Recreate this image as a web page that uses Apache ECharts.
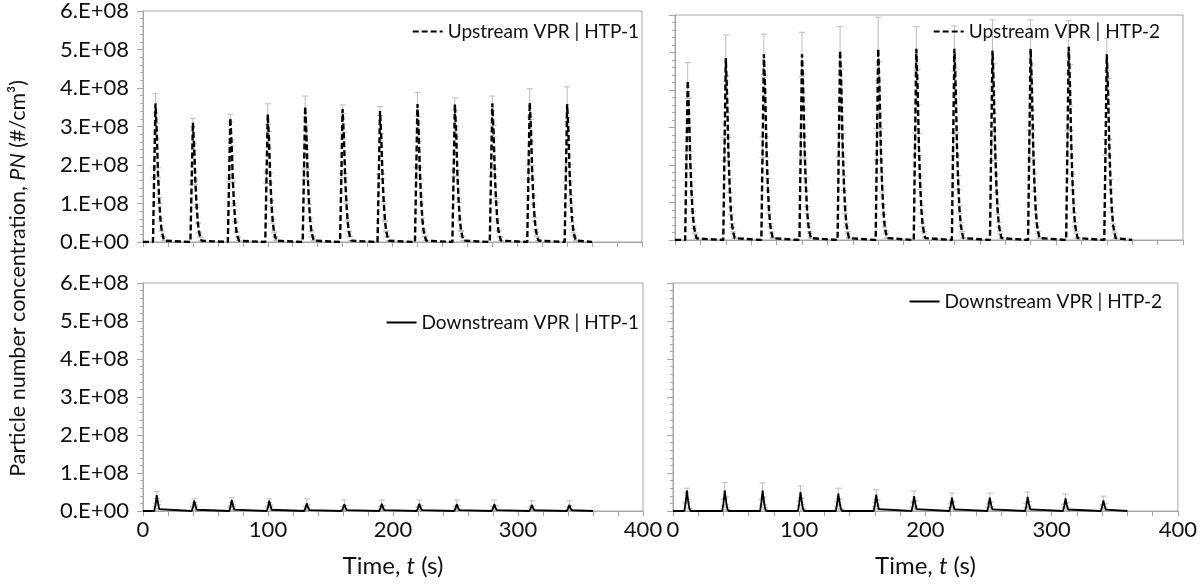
<!DOCTYPE html>
<html>
<head>
<meta charset="UTF-8">
<title>PN upstream / downstream VPR</title>
<script src="https://cdn.jsdelivr.net/npm/echarts@6/dist/echarts.min.js"></script>
<style>
    html, body { margin: 0; padding: 0; background: #fff; }
    #chart { width: 1200px; height: 585px; }
</style>
</head>
<body>
<div id="chart"></div>
<script>
// injection times (s), one pulse every 30 s
var pulseTimes = [10, 40, 70, 100, 130, 160, 190, 220, 250, 280, 310, 340];

// peak values and top of error bar at the peak, in 1e8 #/cm3
var upPeak1 = [3.6, 3.1, 3.22, 3.32, 3.52, 3.45, 3.4, 3.58, 3.58, 3.6, 3.62, 3.58];
var upTop1 = [3.85, 3.21, 3.32, 3.59, 3.79, 3.56, 3.52, 3.89, 3.74, 3.79, 3.98, 4.03];
var upPeak2 = [4.25, 4.85, 4.95, 4.95, 5.05, 5.1, 5.1, 5.1, 5.05, 5.1, 5.15, 4.95];
var upTop2 = [4.73, 5.47, 5.49, 5.54, 5.69, 5.94, 5.69, 5.71, 5.87, 5.87, 5.85, 5.38];
var downPeak1 = [0.42, 0.27, 0.29, 0.27, 0.2, 0.18, 0.19, 0.19, 0.18, 0.18, 0.16, 0.16];
var downTop1 = [0.51, 0.32, 0.35, 0.32, 0.32, 0.29, 0.29, 0.29, 0.29, 0.29, 0.27, 0.27];
var downPeak2 = [0.54, 0.54, 0.54, 0.5, 0.46, 0.43, 0.39, 0.35, 0.35, 0.37, 0.33, 0.28];
var downTop2 = [0.6, 0.75, 0.74, 0.66, 0.6, 0.56, 0.53, 0.47, 0.47, 0.5, 0.45, 0.39];

// pulse profile (seconds from injection, fraction of peak)
var upOffsets = [-2, -1, 0, 1, 2, 3, 4, 5, 6, 7, 8];
var upShape = [0, 0.5, 1, 0.8, 0.5, 0.3, 0.16, 0.08, 0.04, 0.01, 0];
var downOffsets = [-1, 0, 1, 2, 3, 4];
var downShape = [0, 0.4, 1, 0.5, 0.12, 0];

var endTime = 360;
var yTicks = ['0.E+00', '1.E+08', '2.E+08', '3.E+08', '4.E+08', '5.E+08', '6.E+08'];

var FONT = 'Lato';
var AXIS_GREY = '#a6a6a6';
var TEXT = '#111';

function buildData(peaks, tops, offsets, shape) {
    var line = [[0, 0]];
    var err = [];
    for (var k = 0; k < pulseTimes.length; k++) {
        for (var j = 0; j < offsets.length; j++) {
            var t = pulseTimes[k] + offsets[j];
            var v = peaks[k] * shape[j] * 1e8;
            line.push([t, v]);
            if (shape[j] > 0) {
                err.push([t, v, (tops[k] - peaks[k]) * shape[j] * 1e8]);
            }
        }
    }
    line.push([endTime, 0]);
    return { line: line, err: err };
}

var up1 = buildData(upPeak1, upTop1, upOffsets, upShape);
var up2 = buildData(upPeak2, upTop2, upOffsets, upShape);
var down1 = buildData(downPeak1, downTop1, downOffsets, downShape);
var down2 = buildData(downPeak2, downTop2, downOffsets, downShape);

function renderErr(params, api) {
    var x = api.value(0), y = api.value(1), e = api.value(2);
    var hi = api.coord([x, y + e]);
    var lo = api.coord([x, Math.max(y - e, 0)]);
    var w = 3;
    var st = { stroke: '#bdbdbd', lineWidth: 1 };
    return {
        type: 'group',
        children: [
            { type: 'line', shape: { x1: hi[0], y1: hi[1], x2: lo[0], y2: lo[1] }, style: st },
            { type: 'line', shape: { x1: hi[0] - w, y1: hi[1], x2: hi[0] + w, y2: hi[1] }, style: st },
            { type: 'line', shape: { x1: lo[0] - w, y1: lo[1], x2: lo[0] + w, y2: lo[1] }, style: st }
        ]
    };
}

function xAxis(idx, showLabel) {
    return {
        type: 'value', gridIndex: idx, min: 0, max: 400, interval: 20,
        axisLine: { lineStyle: { color: AXIS_GREY } },
        axisTick: { length: 5, lineStyle: { color: AXIS_GREY } },
        splitLine: { show: false },
        axisLabel: {
            show: showLabel, margin: 8, color: TEXT, fontFamily: FONT, fontSize: 22,
            formatter: function (v) { return v % 100 === 0 ? String(v) : ''; }
        },
        name: showLabel ? '{a|Time, }{i|t}{a| (s)}' : '',
        nameLocation: 'middle', nameGap: 43,
        nameTextStyle: {
            rich: {
                a: { fontFamily: FONT, fontSize: 24, color: TEXT },
                i: { fontFamily: FONT, fontSize: 24, color: TEXT, fontStyle: 'italic' }
            }
        }
    };
}

function yAxis(idx, showLabel) {
    return {
        type: 'value', gridIndex: idx, min: 0, max: 6e8, interval: 1e8,
        axisLine: { show: true, lineStyle: { color: AXIS_GREY } },
        axisTick: { show: true, length: 6, lineStyle: { color: AXIS_GREY } },
        minorTick: { show: true, splitNumber: 5, length: 3, lineStyle: { color: AXIS_GREY } },
        splitLine: { show: false },
        axisLabel: {
            show: showLabel, margin: 14, color: TEXT, fontFamily: FONT, fontSize: 22,
            formatter: function (v) { return yTicks[Math.round(v / 1e8)]; }
        }
    };
}

function lineSeries(name, idx, data, dashed) {
    return {
        name: name, type: 'line', xAxisIndex: idx, yAxisIndex: idx,
        data: data, showSymbol: false, symbol: 'none', z: 3,
        lineStyle: { color: '#000', width: dashed ? 2.4 : 1.8, type: dashed ? [6, 3] : 'solid' },
        itemStyle: { color: '#000' }
    };
}

function errSeries(idx, data) {
    return {
        type: 'custom', xAxisIndex: idx, yAxisIndex: idx, z: 2,
        data: data, encode: { x: 0, y: 1 }, renderItem: renderErr, silent: true
    };
}

function legend(name, right, top) {
    return {
        data: [name], right: right, top: top, itemWidth: 30, itemHeight: 12,
        padding: 0, itemStyle: { opacity: 0 },
        textStyle: { fontFamily: FONT, fontSize: 19, color: TEXT }
    };
}

var names = ['Upstream VPR | HTP-1', 'Upstream VPR | HTP-2', 'Downstream VPR | HTP-1', 'Downstream VPR | HTP-2'];

var chart = echarts.init(document.getElementById('chart'));
chart.setOption({
    backgroundColor: '#fff',
    animation: false,
    grid: [
        { left: 143, top: 9, width: 499, height: 233, show: true, borderColor: AXIS_GREY, borderWidth: 1 },
        { left: 675, top: 15, width: 508, height: 225, show: true, borderColor: AXIS_GREY, borderWidth: 1 },
        { left: 143, top: 283, width: 500, height: 228, show: true, borderColor: AXIS_GREY, borderWidth: 1 },
        { left: 673, top: 283, width: 510, height: 228, show: true, borderColor: AXIS_GREY, borderWidth: 1 }
    ],
    xAxis: [xAxis(0, false), xAxis(1, false), xAxis(2, true), xAxis(3, true)],
    yAxis: [yAxis(0, true), yAxis(1, false), yAxis(2, true), yAxis(3, false)],
    legend: [
        legend(names[0], 561, 22),
        legend(names[1], 40, 22),
        legend(names[2], 561, 313),
        legend(names[3], 38, 292)
    ],
    graphic: [{
        type: 'text', left: 7, top: 80, rotation: Math.PI / 2,
        style: {
            text: '{a|Particle number concentration, }{i|PN}{a| (#/cm³)}',
            rich: {
                a: { fontFamily: FONT, fontSize: 21.5, fill: TEXT },
                i: { fontFamily: FONT, fontSize: 21.5, fill: TEXT, fontStyle: 'italic' }
            }
        }
    }],
    series: [
        errSeries(0, up1.err), lineSeries(names[0], 0, up1.line, true),
        errSeries(1, up2.err), lineSeries(names[1], 1, up2.line, true),
        errSeries(2, down1.err), lineSeries(names[2], 2, down1.line, false),
        errSeries(3, down2.err), lineSeries(names[3], 3, down2.line, false)
    ]
});
</script>
</body>
</html>
